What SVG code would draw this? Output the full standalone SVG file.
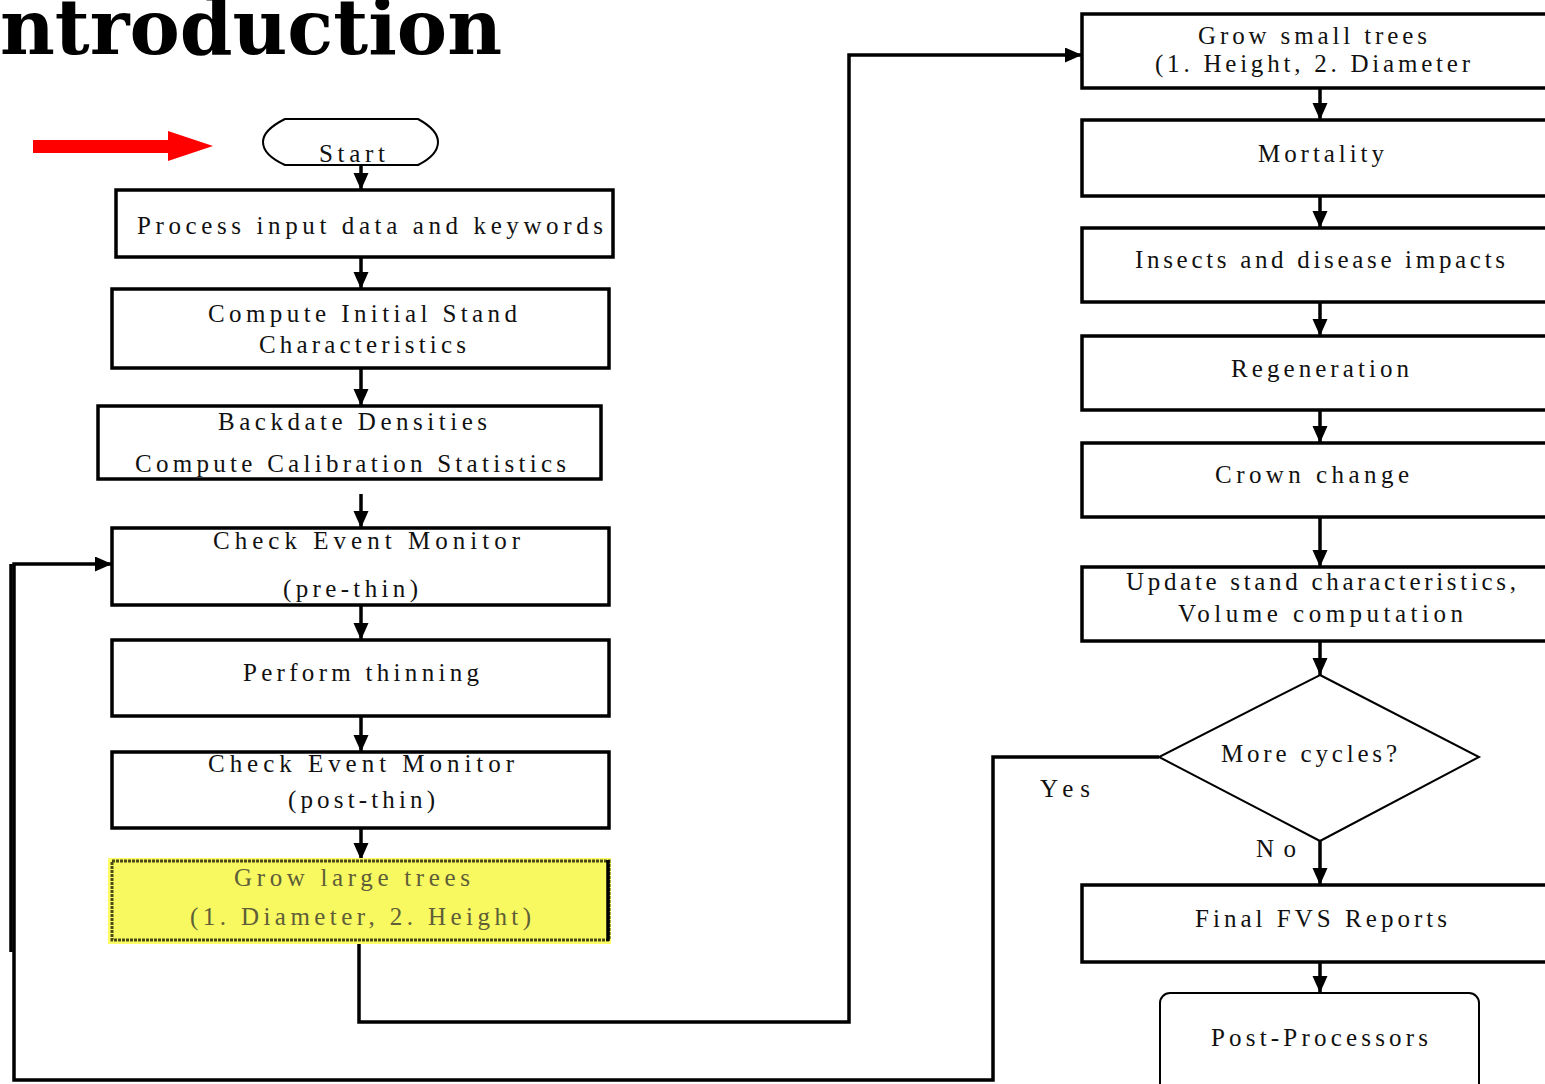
<svg xmlns="http://www.w3.org/2000/svg" width="1545" height="1084" viewBox="0 0 1545 1084">
<defs>
<marker id="ah" markerUnits="userSpaceOnUse" markerWidth="18" markerHeight="16" refX="17" refY="7.5" orient="auto">
<path d="M0,0 L17,7.5 L0,15 z" fill="#000"/>
</marker>
</defs>
<style>
.box{fill:#fff;stroke:#000;stroke-width:3.5}
.t{font-family:"Liberation Serif","Times New Roman",serif;font-size:25px;fill:#111}
.c{fill:none;stroke:#000;stroke-width:3.5}
.thin{fill:#fff;stroke:#000;stroke-width:2}
</style>
<rect width="1545" height="1084" fill="#fff"/>
<text x="0" y="54" font-family="DejaVu Serif,serif" font-weight="bold" font-size="76" textLength="502" lengthAdjust="spacingAndGlyphs">ntroduction</text>

<g id="red-arrow">
<rect x="33" y="140" width="137" height="13" fill="#f00"/>
<polygon points="168,131 213,146 168,161" fill="#f00"/>
</g>

<g id="connectors">
<line class="c" x1="361" y1="160" x2="361" y2="190" marker-end="url(#ah)"/>
<line class="c" x1="361" y1="257" x2="361" y2="289" marker-end="url(#ah)"/>
<line class="c" x1="361" y1="368" x2="361" y2="406" marker-end="url(#ah)"/>
<line class="c" x1="361" y1="494" x2="361" y2="528" marker-end="url(#ah)"/>
<line class="c" x1="361" y1="605" x2="361" y2="640" marker-end="url(#ah)"/>
<line class="c" x1="361" y1="716" x2="361" y2="752" marker-end="url(#ah)"/>
<line class="c" x1="361" y1="828" x2="361" y2="860" marker-end="url(#ah)"/>
<path class="c" d="M359,941 L359,1022 L849,1022 L849,55 L1082,55" marker-end="url(#ah)"/>
<line class="c" x1="1320" y1="88" x2="1320" y2="120" marker-end="url(#ah)"/>
<line class="c" x1="1320" y1="196" x2="1320" y2="228" marker-end="url(#ah)"/>
<line class="c" x1="1320" y1="302" x2="1320" y2="336" marker-end="url(#ah)"/>
<line class="c" x1="1320" y1="410" x2="1320" y2="443" marker-end="url(#ah)"/>
<line class="c" x1="1320" y1="517" x2="1320" y2="567" marker-end="url(#ah)"/>
<line class="c" x1="1320" y1="641" x2="1320" y2="675" marker-end="url(#ah)"/>
<line class="c" x1="1320" y1="841" x2="1320" y2="885" marker-end="url(#ah)"/>
<line class="c" x1="1320" y1="962" x2="1320" y2="993" marker-end="url(#ah)"/>
<path class="c" d="M1159,757 L993,757 L993,1080 L14,1080 L14,564 L112,564" marker-end="url(#ah)"/>
<line class="c" x1="11" y1="564" x2="11" y2="952" stroke-width="4"/>
<text class="t" x="1040" y="797" textLength="50" lengthAdjust="spacing">Yes</text>
<text class="t" x="1256" y="857" textLength="40" lengthAdjust="spacing">No</text>
</g>

<g id="start">
<path class="thin" d="M285,119 L418,119 Q438,130 438,142 Q438,155 418,165 L285,165 Q263,155 263,142 Q263,130 285,119 Z"/>
<text class="t" x="319" y="162" textLength="66" lengthAdjust="spacing">Start</text>
</g>
<g id="process">
<rect class="box" x="116" y="190" width="497" height="67"/>
<text class="t" x="137" y="234" textLength="466" lengthAdjust="spacing">Process input data and keywords</text>
</g>
<g id="compute">
<rect class="box" x="112" y="289" width="497" height="79"/>
<text class="t" x="208" y="322" textLength="309" lengthAdjust="spacing">Compute Initial Stand</text>
<text class="t" x="259" y="353" textLength="207" lengthAdjust="spacing">Characteristics</text>
</g>
<g id="backdate">
<rect class="box" x="98" y="406" width="503" height="73"/>
<text class="t" x="218" y="430" textLength="269" lengthAdjust="spacing">Backdate Densities</text>
<text class="t" x="135" y="472" textLength="431" lengthAdjust="spacing">Compute Calibration Statistics</text>
</g>
<g id="check-pre">
<rect class="box" x="112" y="528" width="497" height="77"/>
<text class="t" x="213" y="549" textLength="307" lengthAdjust="spacing">Check Event Monitor</text>
<text class="t" x="283" y="597" textLength="135" lengthAdjust="spacing">(pre-thin)</text>
</g>
<g id="thinning">
<rect class="box" x="112" y="640" width="497" height="76"/>
<text class="t" x="243" y="681" textLength="236" lengthAdjust="spacing">Perform thinning</text>
</g>
<g id="check-post">
<rect class="box" x="112" y="752" width="497" height="76"/>
<text class="t" x="208" y="772" textLength="306" lengthAdjust="spacing">Check Event Monitor</text>
<text class="t" x="288" y="808" textLength="147" lengthAdjust="spacing">(post-thin)</text>
</g>
<g id="grow-large">
<rect x="108" y="858" width="503" height="86" fill="#ffff66"/>
<rect x="112" y="861" width="497" height="79" fill="#f8f860" stroke="#4a4a18" stroke-width="3" stroke-dasharray="3 1"/>
<line x1="608" y1="860" x2="608" y2="941" stroke="#000" stroke-width="3.5"/>
<text class="t" x="234" y="886" textLength="236" lengthAdjust="spacing" style="fill:#5e5e38">Grow large trees</text>
<text class="t" x="190" y="925" textLength="341" lengthAdjust="spacing" style="fill:#5e5e38">(1. Diameter, 2. Height)</text>
</g>

<g id="grow-small">
<rect class="box" x="1082" y="14" width="480" height="74"/>
<text class="t" x="1198" y="44" textLength="229" lengthAdjust="spacing">Grow small trees</text>
<text class="t" x="1155" y="72" textLength="315" lengthAdjust="spacing">(1. Height, 2. Diameter</text>
</g>
<g id="mortality">
<rect class="box" x="1082" y="120" width="480" height="76"/>
<text class="t" x="1258" y="162" textLength="126" lengthAdjust="spacing">Mortality</text>
</g>
<g id="insects">
<rect class="box" x="1082" y="228" width="480" height="74"/>
<text class="t" x="1135" y="268" textLength="370" lengthAdjust="spacing">Insects and disease impacts</text>
</g>
<g id="regeneration">
<rect class="box" x="1082" y="336" width="480" height="74"/>
<text class="t" x="1231" y="377" textLength="178" lengthAdjust="spacing">Regeneration</text>
</g>
<g id="crown">
<rect class="box" x="1082" y="443" width="480" height="74"/>
<text class="t" x="1215" y="483" textLength="194" lengthAdjust="spacing">Crown change</text>
</g>
<g id="update">
<rect class="box" x="1082" y="567" width="480" height="74"/>
<text class="t" x="1126" y="590" textLength="390" lengthAdjust="spacing">Update stand characteristics,</text>
<text class="t" x="1178" y="622" textLength="285" lengthAdjust="spacing">Volume computation</text>
</g>
<g id="more-cycles">
<polygon class="thin" points="1320,675 1479,757 1320,841 1159,757"/>
<text class="t" x="1221" y="762" textLength="176" lengthAdjust="spacing">More cycles?</text>
</g>
<g id="final">
<rect class="box" x="1082" y="885" width="480" height="77"/>
<text class="t" x="1195" y="927" textLength="252" lengthAdjust="spacing">Final FVS Reports</text>
</g>
<g id="post">
<rect class="thin" x="1160" y="993" width="319" height="110" rx="10"/>
<text class="t" x="1211" y="1046" textLength="217" lengthAdjust="spacing">Post-Processors</text>
</g>
</svg>
